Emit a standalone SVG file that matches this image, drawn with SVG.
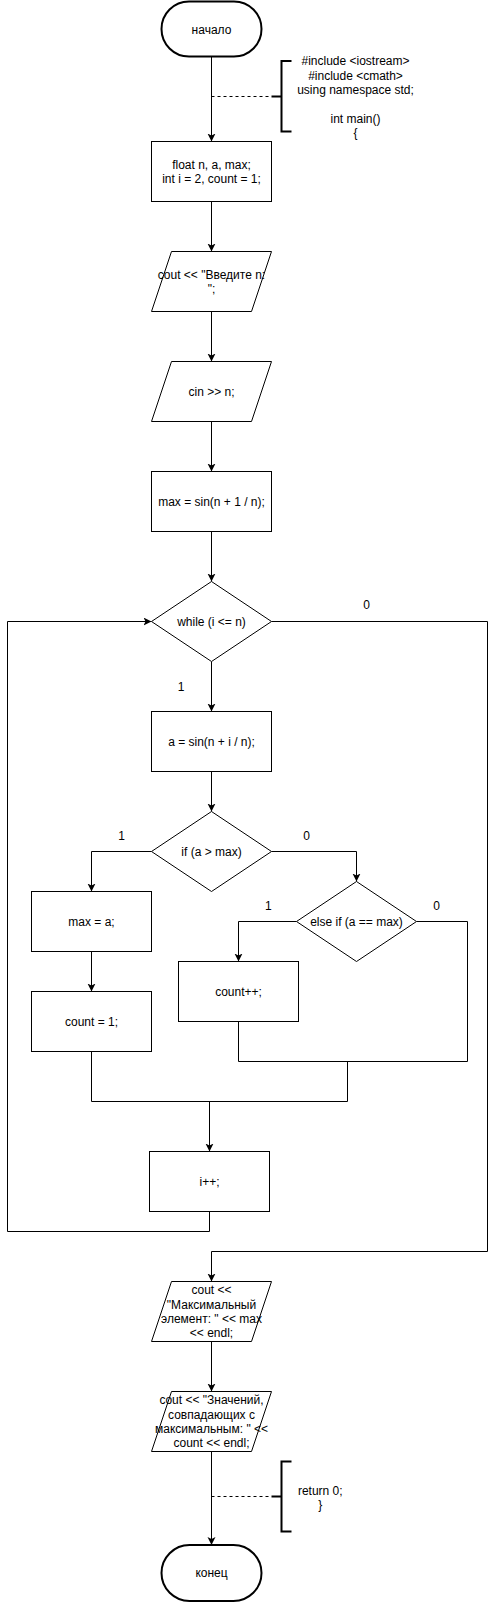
<svg xmlns="http://www.w3.org/2000/svg" width="497" height="1603" viewBox="0 0 497 1603">
<defs>
<marker id="arr" markerUnits="userSpaceOnUse" markerWidth="10" markerHeight="10" refX="8" refY="4" orient="auto">
<path d="M0,0 L8,4 L0,8 L2,4 Z" fill="#000"/>
</marker>
<style>
.s{fill:#fff;stroke:#000;stroke-width:1}
.t{fill:#fff;stroke:#000;stroke-width:2}
.e{fill:none;stroke:#000;stroke-width:1}
.a{fill:none;stroke:#000;stroke-width:1;marker-end:url(#arr)}
.d{fill:none;stroke:#000;stroke-width:1;stroke-dasharray:3 3}
.b{fill:none;stroke:#000;stroke-width:2}
text{font-family:"Liberation Sans",Arial,sans-serif;font-size:12px;fill:#000;text-anchor:middle}
</style>
</defs>
<rect width="497" height="1603" fill="#fff"/>
<g id="connectors">
<path class="a" d="M211.5,57 V141.5"/>
<path class="a" d="M211.5,201.5 V251.5"/>
<path class="a" d="M211.5,311.5 V361.5"/>
<path class="a" d="M211.5,421.5 V471.5"/>
<path class="a" d="M211.5,531.5 V581.5"/>
<path class="a" d="M211.5,661.5 V711.5"/>
<path class="a" d="M211.5,771.5 V811.5"/>
<path class="a" d="M151.5,851.5 H91.5 V891.5"/>
<path class="a" d="M271.5,851.5 H356.5 V881.5"/>
<path class="a" d="M91.5,951.5 V991.5"/>
<path class="a" d="M296.5,921.5 H238.5 V961.5"/>
<path class="e" d="M416.5,921.5 H467.5 V1061.5 H238.5 V1021.5"/>
<path class="e" d="M347.5,1061.5 V1101.5"/>
<path class="e" d="M91.5,1051.5 V1101.5 H347.5"/>
<path class="a" d="M209.5,1101.5 V1151.5"/>
<path class="a" d="M209.5,1211.5 V1231.5 H7.5 V621.5 H151.5"/>
<path class="a" d="M271.5,621.5 H487.5 V1251.5 H211.5 V1281.5"/>
<path class="a" d="M211.5,1341.5 V1391.5"/>
<path class="a" d="M211.5,1451.5 V1545"/>
<path class="d" d="M211.5,96.5 H271.5"/>
<path class="d" d="M211.5,1496.5 H271.5"/>
<text x="366.7" y="609.3">0</text>
<text x="181" y="691">1</text>
<text x="121.7" y="840">1</text>
<text x="306.7" y="840">0</text>
<text x="268.3" y="910.3">1</text>
<text x="436.7" y="910.3">0</text>
</g>
<g id="start">
<rect class="t" x="161.5" y="1.5" width="100" height="55" rx="27.5"/>
<text x="211.5" y="34">начало</text>
</g>
<g id="comment-top">
<path class="b" d="M271.5,96.5 H281.5 M291.5,61 H281.5 V131.5 H291.5"/>
<text x="355.5" y="65.2">#include &lt;iostream&gt;</text>
<text x="355.5" y="79.6">#include &lt;cmath&gt;</text>
<text x="355.5" y="94">using namespace std;</text>
<text x="355.5" y="122.8">int main()</text>
<text x="355.5" y="137.2">{</text>
</g>
<g id="decl">
<rect class="s" x="151.5" y="141.5" width="120" height="60"/>
<text x="211.5" y="168.5">float n, a, max;</text>
<text x="211.5" y="182.9">int i = 2, count = 1;</text>
</g>
<g id="out-prompt">
<path class="s" d="M171.5,251.5 H271.5 L251.5,311.5 H151.5 Z"/>
<text x="211.5" y="278.5">cout &lt;&lt; "Введите n:</text>
<text x="211.5" y="292.9">";</text>
</g>
<g id="in-n">
<path class="s" d="M171.5,361.5 H271.5 L251.5,421.5 H151.5 Z"/>
<text x="211.5" y="395.7">cin &gt;&gt; n;</text>
</g>
<g id="init-max">
<rect class="s" x="151.5" y="471.5" width="120" height="60"/>
<text x="211.5" y="505.7">max = sin(n + 1 / n);</text>
</g>
<g id="while">
<path class="s" d="M211.5,581.5 L271.5,621.5 L211.5,661.5 L151.5,621.5 Z"/>
<text x="211.5" y="625.7">while (i &lt;= n)</text>
</g>
<g id="calc-a">
<rect class="s" x="151.5" y="711.5" width="120" height="60"/>
<text x="211.5" y="745.7">a = sin(n + i / n);</text>
</g>
<g id="if">
<path class="s" d="M211.5,811.5 L271.5,851.5 L211.5,891.5 L151.5,851.5 Z"/>
<text x="211.5" y="855.7">if (a &gt; max)</text>
</g>
<g id="set-max">
<rect class="s" x="31.5" y="891.5" width="120" height="60"/>
<text x="91.5" y="925.7">max = a;</text>
</g>
<g id="reset-count">
<rect class="s" x="31.5" y="991.5" width="120" height="60"/>
<text x="91.5" y="1025.7">count = 1;</text>
</g>
<g id="elseif">
<path class="s" d="M356.5,881.5 L416.5,921.5 L356.5,961.5 L296.5,921.5 Z"/>
<text x="356.5" y="925.7">else if (a == max)</text>
</g>
<g id="inc-count">
<rect class="s" x="178.5" y="961.5" width="120" height="60"/>
<text x="238.5" y="995.7">count++;</text>
</g>
<g id="inc-i">
<rect class="s" x="149.5" y="1151.5" width="120" height="60"/>
<text x="209.5" y="1185.7">i++;</text>
</g>
<g id="out-max">
<path class="s" d="M171.5,1281.5 H271.5 L251.5,1341.5 H151.5 Z"/>
<text x="211.5" y="1294.1">cout &lt;&lt;</text>
<text x="211.5" y="1308.5">"Максимальный</text>
<text x="211.5" y="1322.9">элемент: " &lt;&lt; max</text>
<text x="211.5" y="1337.3">&lt;&lt; endl;</text>
</g>
<g id="out-count">
<path class="s" d="M171.5,1391.5 H271.5 L251.5,1451.5 H151.5 Z"/>
<text x="211.5" y="1404.1">cout &lt;&lt; "Значений,</text>
<text x="211.5" y="1418.5">совпадающих с</text>
<text x="211.5" y="1432.9">максимальным: " &lt;&lt;</text>
<text x="211.5" y="1447.3">count &lt;&lt; endl;</text>
</g>
<g id="comment-bottom">
<path class="b" d="M271.5,1496.5 H281.5 M291.5,1461.5 H281.5 V1531.5 H291.5"/>
<text x="320.3" y="1494.5">return 0;</text>
<text x="320.3" y="1508.9">}</text>
</g>
<g id="end">
<rect class="t" x="161.5" y="1545" width="100" height="56" rx="28"/>
<text x="211.5" y="1577">конец</text>
</g>
</svg>
